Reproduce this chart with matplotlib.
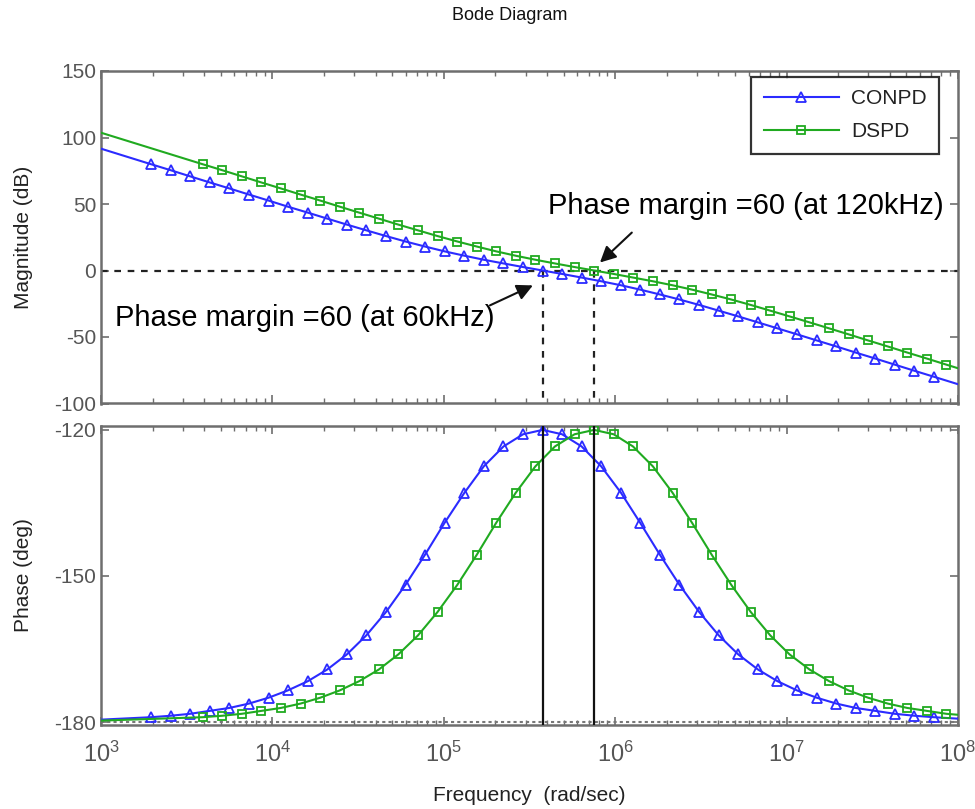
import matplotlib
matplotlib.use("Agg")
import matplotlib.pyplot as plt
from matplotlib.ticker import LogLocator, NullFormatter, FixedLocator, FixedFormatter

plt.rcParams['font.family'] = ['Liberation Sans', 'DejaVu Sans']
plt.rcParams['axes.unicode_minus'] = False
plt.rcParams['mathtext.fontset'] = 'custom'
plt.rcParams['mathtext.rm'] = 'Liberation Sans'
plt.rcParams['mathtext.it'] = 'Liberation Sans:italic'
plt.rcParams['mathtext.bf'] = 'Liberation Sans:bold'

# ---------------- data ----------------
# CONPD (blue) sample frequencies (rad/s), magnitude (dB), phase (deg)
conpd_freq = [1.0e3, 1.96e3, 2.55e3, 3.31e3, 4.31e3, 5.61e3, 7.30e3, 9.49e3, 1.23e4, 1.61e4, 2.09e4,
              2.72e4, 3.53e4, 4.60e4, 5.98e4, 7.78e4, 1.01e5, 1.32e5, 1.71e5, 2.23e5, 2.90e5,
              3.77e5, 4.90e5, 6.37e5, 8.29e5, 1.08e6, 1.40e6, 1.82e6, 2.37e6, 3.09e6, 4.02e6,
              5.22e6, 6.80e6, 8.84e6, 1.15e7, 1.50e7, 1.95e7, 2.53e7, 3.29e7, 4.28e7, 5.57e7,
              7.24e7, 1.0e8]
conpd_mag = [91.6, 79.9, 75.4, 70.8, 66.2, 61.7, 57.1, 52.6, 48.0, 43.5, 39.0,
             34.5, 30.2, 25.9, 21.8, 18.0, 14.4, 11.1, 8.1, 5.3, 2.6,
             0.0, -2.6, -5.3, -8.1, -11.1, -14.4, -18.0, -21.8, -25.9, -30.2,
             -34.5, -39.0, -43.5, -48.0, -52.6, -57.1, -61.7, -66.2, -70.8, -75.4,
             -79.9, -85.5]
conpd_phase = [-179.5, -179.0, -178.7, -178.3, -177.7, -177.1, -176.2, -175.0, -173.5, -171.6, -169.2,
               -166.1, -162.2, -157.4, -151.8, -145.6, -139.1, -132.9, -127.5, -123.4, -120.9,
               -120.0, -120.9, -123.4, -127.5, -132.9, -139.1, -145.6, -151.8, -157.4, -162.2,
               -166.1, -169.2, -171.6, -173.5, -175.0, -176.2, -177.1, -177.7, -178.3, -178.7,
               -179.0, -179.3]

# DSPD (green)
dspd_freq = [1.0e3, 3.92e3, 5.10e3, 6.63e3, 8.62e3, 1.12e4, 1.46e4, 1.90e4, 2.47e4, 3.21e4, 4.18e4,
             5.43e4, 7.07e4, 9.19e4, 1.20e5, 1.56e5, 2.02e5, 2.63e5, 3.42e5, 4.45e5, 5.79e5,
             7.53e5, 9.80e5, 1.27e6, 1.66e6, 2.16e6, 2.81e6, 3.65e6, 4.75e6, 6.18e6, 8.03e6,
             1.04e7, 1.36e7, 1.77e7, 2.30e7, 2.99e7, 3.89e7, 5.06e7, 6.58e7, 8.56e7, 1.0e8]
dspd_mag = [103.6, 79.9, 75.4, 70.8, 66.2, 61.7, 57.1, 52.6, 48.0, 43.5, 39.0,
            34.5, 30.2, 25.9, 21.8, 18.0, 14.4, 11.1, 8.1, 5.3, 2.6,
            0.0, -2.6, -5.3, -8.1, -11.1, -14.4, -18.0, -21.8, -25.9, -30.2,
            -34.5, -39.0, -43.5, -48.0, -52.6, -57.1, -61.7, -66.2, -70.8, -73.5]
dspd_phase = [-179.7, -179.0, -178.7, -178.3, -177.7, -177.1, -176.2, -175.0, -173.5, -171.6, -169.2,
              -166.1, -162.2, -157.4, -151.8, -145.6, -139.1, -132.9, -127.5, -123.4, -120.9,
              -120.0, -120.9, -123.4, -127.5, -132.9, -139.1, -145.6, -151.8, -157.4, -162.2,
              -166.1, -169.2, -171.6, -173.5, -175.0, -176.2, -177.1, -177.7, -178.3, -178.5]

crossover_freqs = [3.77e5, 7.54e5]   # 60 kHz and 120 kHz in rad/s
series_names = ['CONPD', 'DSPD']
mag_ticks = [-100, -50, 0, 50, 100, 150]
phase_ticks = [-180, -150, -120]
freq_ticks = [1e3, 1e4, 1e5, 1e6, 1e7, 1e8]
freq_ticklabels = [r'$\mathregular{10^{3}}$', r'$\mathregular{10^{4}}$', r'$\mathregular{10^{5}}$',
                   r'$\mathregular{10^{6}}$', r'$\mathregular{10^{7}}$', r'$\mathregular{10^{8}}$']

# annotations: (text, text position, arrow tail, arrow head)
notes = [
    ('Phase margin =60 (at 120kHz)', (4.06e5, 48.7), (1.25e6, 28.5), (8.15e5, 6.0)),
    ('Phase margin =60 (at 60kHz)', (1.21e3, -36.0), (1.86e5, -26.2), (3.31e5, -11.2)),
]

# ---------------- figure ----------------
W, H = 975, 809
fig = plt.figure(figsize=(W / 100, H / 100), dpi=100)
L = 101 / W
Wd = 857 / W
ax1 = fig.add_axes([L, 1 - 403.5 / H, Wd, 332.5 / H])
ax2 = fig.add_axes([L, 1 - 725 / H, Wd, 299 / H])

blue = '#2b2bff'
green = '#20aa20'
spine_c = '#6e6e6e'
tick_c = '#555555'
fs = 15

def style(ax):
    ax.set_xscale('log')
    ax.set_xlim(1e3, 1e8)
    for s in ax.spines.values():
        s.set_color(spine_c)
        s.set_linewidth(1.8)
    ax.tick_params(which='both', direction='in', top=True, right=True,
                   colors=spine_c, labelcolor=tick_c, labelsize=fs)
    ax.tick_params(which='major', length=6, width=1.2)
    ax.tick_params(which='minor', length=3.5, width=1.0)
    ax.xaxis.set_major_locator(FixedLocator(freq_ticks))
    ax.xaxis.set_minor_locator(LogLocator(base=10, subs=range(2, 10), numticks=20))
    ax.xaxis.set_minor_formatter(NullFormatter())

style(ax1)
style(ax2)

# magnitude
ax1.plot(conpd_freq, conpd_mag, color=blue, lw=1.5, marker='^', ms=7, mfc='none',
         mec=blue, mew=1.3, markevery=slice(1, len(conpd_freq) - 1), label=series_names[0], zorder=3)
ax1.plot(dspd_freq, dspd_mag, color=green, lw=1.5, marker='s', ms=6, mfc='none',
         mec=green, mew=1.3, markevery=slice(1, len(dspd_freq) - 1), label=series_names[1], zorder=3)
ax1.axhline(0, color='#222222', lw=1.6, ls=(0, (3, 3)), zorder=2)
for f in crossover_freqs:
    ax1.plot([f, f], [0, -100], color='#222222', lw=1.6, ls=(0, (3, 3)), zorder=2)
ax1.set_ylim(-100, 150)
ax1.yaxis.set_major_locator(FixedLocator(mag_ticks))
ax1.set_xticklabels([])
ax1.set_ylabel('Magnitude (dB)', fontsize=fs, color='#222222', labelpad=15)

leg = ax1.legend(loc='upper right', fontsize=fs, frameon=True, fancybox=False,
                 edgecolor='black', borderpad=0.6, handlelength=3.6, handletextpad=0.6,
                 labelspacing=0.65, borderaxespad=0, bbox_to_anchor=(0.978, 0.982))
leg.get_frame().set_linewidth(1.6)
for t in leg.get_texts():
    t.set_color('#222222')

for txt, tpos, tail, head in notes:
    ax1.text(tpos[0], tpos[1], txt, fontsize=21, color='black', va='center', ha='left',
             zorder=5)
    ax1.annotate('', xy=head, xytext=tail,
                 arrowprops=dict(arrowstyle='-|>', color='#111111', lw=1.5,
                                 mutation_scale=24, shrinkA=0, shrinkB=0), zorder=5)

# phase
ax2.plot(conpd_freq, conpd_phase, color=blue, lw=1.5, marker='^', ms=7, mfc='none',
         mec=blue, mew=1.3, markevery=slice(1, len(conpd_freq) - 1), zorder=3)
ax2.plot(dspd_freq, dspd_phase, color=green, lw=1.5, marker='s', ms=6, mfc='none',
         mec=green, mew=1.3, markevery=slice(1, len(dspd_freq) - 1), zorder=3)
ax2.axhline(-180, color='#777777', lw=1.5, ls=(0, (1.5, 1.5)), zorder=2)
for f in crossover_freqs:
    ax2.axvline(f, color='#111111', lw=1.6, zorder=4)
ax2.set_ylim(-180.6, -119.2)
ax2.yaxis.set_major_locator(FixedLocator(phase_ticks))
ax2.xaxis.set_major_formatter(FixedFormatter(freq_ticklabels))
ax2.set_ylabel('Phase (deg)', fontsize=fs, color='#222222', labelpad=15)
ax2.set_xlabel('Frequency  (rad/sec)', fontsize=fs, color='#222222', labelpad=14)
ax2.tick_params(axis='x', which='major', pad=12, labelsize=fs + 2)

fig.text(510 / W, 1 - 16 / H, 'Bode Diagram', fontsize=fs - 2, color='#111111',
         ha='center', va='center')

fig.savefig('out.png', dpi=100)
